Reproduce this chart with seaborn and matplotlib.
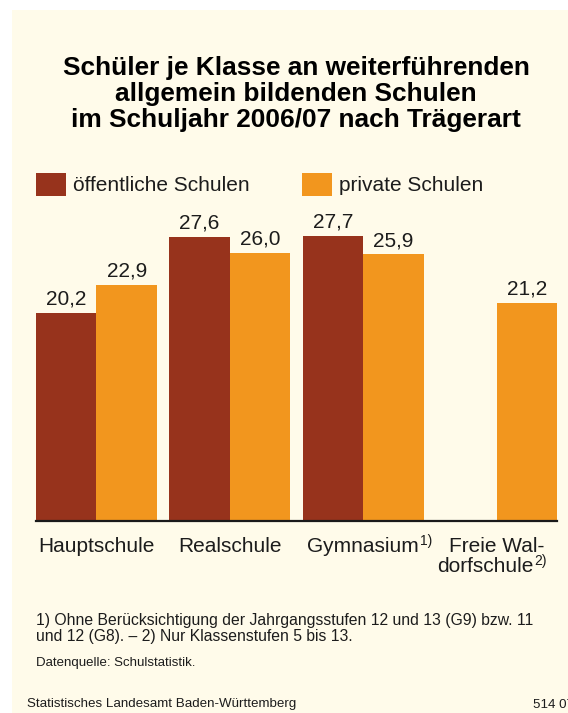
import numpy as np
import pandas as pd
import matplotlib
matplotlib.use("Agg")
import matplotlib.pyplot as plt
import seaborn as sns
from matplotlib.patches import Rectangle, Patch

# ---------------- data ----------------
categories = ["Hauptschule", "Realschule", "Gymnasium", "Freie Waldorfschule"]
tick_labels = ["Hauptschule", "Realschule", "Gymnasium", "Freie Wal-"]
tick_second_line = ["", "", "", "dorfschule"]
tick_sups = ["", "", "1)", "2)"]
series = ["öffentliche Schulen", "private Schulen"]
oeffentlich = [20.2, 27.6, 27.7, np.nan]
privat = [22.9, 26.0, 25.9, 21.2]
colors = ["#97331C", "#F2961E"]

title_lines = ["Schüler je Klasse an weiterführenden",
               "allgemein bildenden Schulen",
               "im Schuljahr 2006/07 nach Trägerart"]
footnote1 = "1) Ohne Berücksichtigung der Jahrgangsstufen 12 und 13 (G9) bzw. 11"
footnote2 = "und 12 (G8). – 2) Nur Klassenstufen 5 bis 13."
source = "Datenquelle: Schulstatistik."
publisher = "Statistisches Landesamt Baden-Württemberg"
code = "514 07"

df = pd.DataFrame({
    "Schulart": categories * 2,
    "Träger": [series[0]] * len(categories) + [series[1]] * len(categories),
    "Wert": oeffentlich + privat,
})

# ---------------- style ----------------
sns.set_theme(style="white")
plt.rcParams["font.family"] = ["Liberation Sans", "DejaVu Sans"]
BG = "#FFFBEA"
TXT = "#1c1c1c"

W, H = 568, 713
fig = plt.figure(figsize=(W / 100, H / 100), dpi=100)
fig.patch.set_facecolor("white")
fig.add_artist(Rectangle((12 / W, 0), 1 - 12 / W, 1 - 10 / H,
                         transform=fig.transFigure, facecolor=BG,
                         edgecolor="none", zorder=-10))

ax_left, ax_right = 36, 557
ax_bottom, ax_top = 521.3, 150
ax = fig.add_axes([ax_left / W, 1 - ax_bottom / H,
                   (ax_right - ax_left) / W, (ax_bottom - ax_top) / H])
ax.set_facecolor("none")

sns.barplot(data=df, x="Schulart", y="Wert", hue="Träger",
            palette=colors, width=0.906, gap=0, saturation=1,
            errorbar=None, linewidth=0, legend=False, ax=ax)

ax.set_xlim(-0.453, 3.453)
ax.set_ylim(0, 36)

for cont in ax.containers:
    labels = []
    for b in cont:
        h = b.get_height()
        labels.append("" if (h is None or np.isnan(h)) else f"{h:.1f}".replace(".", ","))
    ax.bar_label(cont, labels=labels, padding=3, fontsize=15, color=TXT)

for s in ["left", "right", "top"]:
    ax.spines[s].set_visible(False)
ax.spines["bottom"].set_color("#1a1a1a")
ax.spines["bottom"].set_linewidth(1.6)
ax.set_yticks([])
ax.set_xlabel("")
ax.set_ylabel("")
ax.set_xticks(range(len(categories)))
ax.set_xticklabels(tick_labels, fontsize=15, color=TXT)
ax.tick_params(axis="x", length=0, pad=11)

fig.canvas.draw()
tlabels = ax.get_xticklabels()
for i, lab in enumerate(tlabels):
    anchor = lab
    if tick_second_line[i]:
        anchor = ax.annotate(tick_second_line[i], xy=(0.5, 0), xycoords=lab,
                             xytext=(-8, -1), textcoords="offset points",
                             ha="center", va="top", fontsize=15, color=TXT,
                             annotation_clip=False)
    if tick_sups[i]:
        ax.annotate(tick_sups[i], xy=(1, 1), xycoords=anchor,
                    xytext=(0.5, 2), textcoords="offset points",
                    ha="left", va="top", fontsize=10, color=TXT,
                    annotation_clip=False)

# legend
handles = [Patch(facecolor=c, edgecolor="none") for c in colors]
ax.legend(handles, series, loc="upper left",
          bbox_to_anchor=(36 / W, 1 - 173 / H), bbox_transform=fig.transFigure,
          ncol=2, frameon=False, fontsize=15, borderpad=0, borderaxespad=0,
          handlelength=1.44, handleheight=1.322, handletextpad=0.34,
          columnspacing=2.5, labelcolor=TXT)

# title
for yb, line in zip([75, 101, 127], title_lines):
    fig.text(296 / W, 1 - yb / H, line, ha="center", va="baseline",
             fontsize=18.9, fontweight="bold", color="black")

# footnotes
fig.text(36 / W, 1 - 625.5 / H, footnote1, ha="left", va="baseline", fontsize=11.35, color=TXT)
fig.text(36 / W, 1 - 641.5 / H, footnote2, ha="left", va="baseline", fontsize=11.35, color=TXT)
fig.text(36 / W, 1 - 666 / H, source, ha="left", va="baseline", fontsize=9.5, color=TXT)
fig.text(27 / W, 1 - 707.5 / H, publisher, ha="left", va="baseline", fontsize=9.6, color=TXT)
fig.text(533 / W, 1 - 707.5 / H, code, ha="left", va="baseline", fontsize=9.6, color=TXT)

fig.savefig("out.png", dpi=100, facecolor=fig.get_facecolor())
